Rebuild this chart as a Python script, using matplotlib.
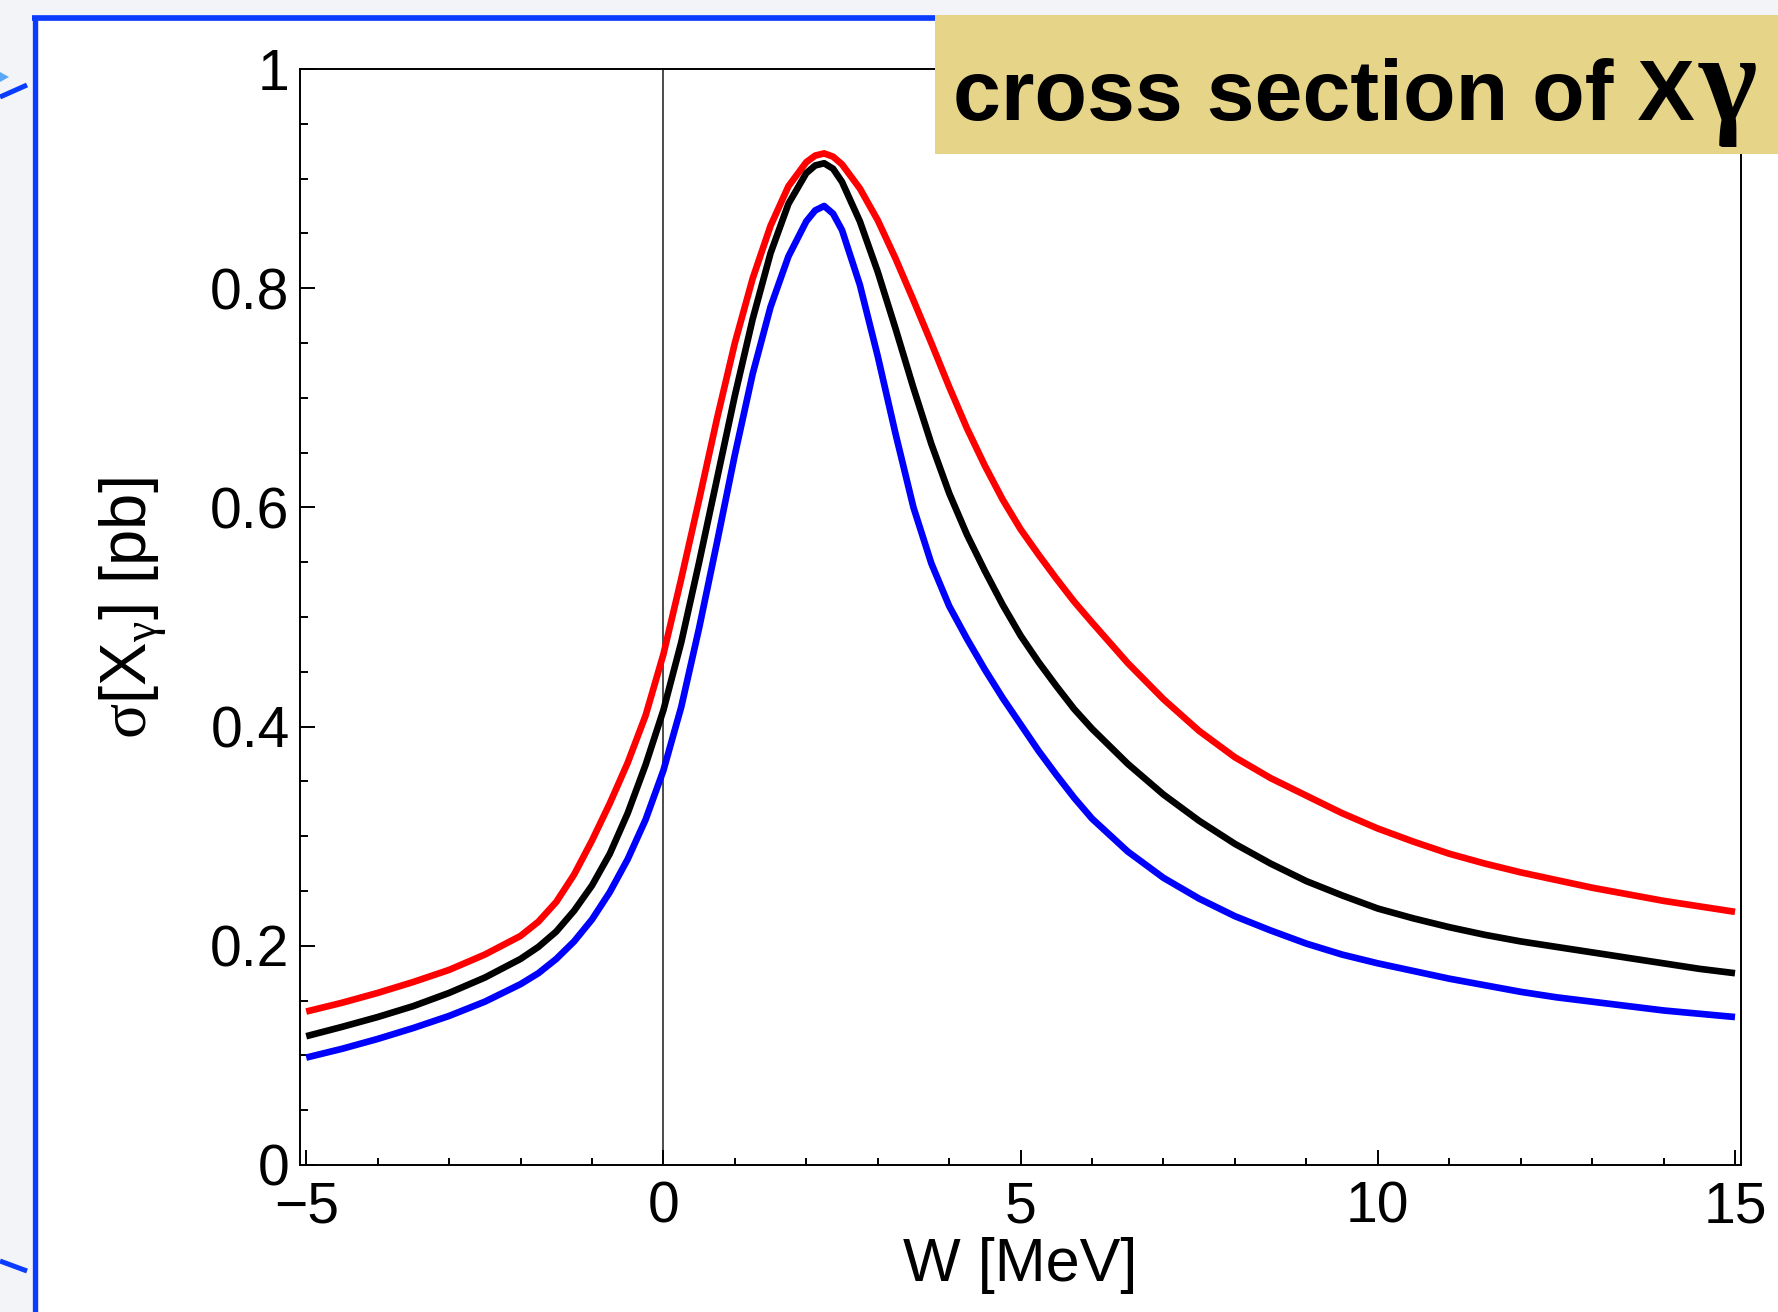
import matplotlib
matplotlib.use("Agg")
import matplotlib.pyplot as plt
from matplotlib.patches import Rectangle, Polygon
from matplotlib.lines import Line2D
from matplotlib.ticker import MultipleLocator, FixedLocator, FixedFormatter

plt.rcParams["font.family"] = ["Liberation Sans", "DejaVu Sans"]
plt.rcParams["mathtext.fontset"] = "custom"
plt.rcParams["mathtext.rm"] = "Liberation Sans"
plt.rcParams["mathtext.it"] = "Liberation Sans:italic"
plt.rcParams["mathtext.bf"] = "Liberation Sans:bold"
plt.rcParams["mathtext.sf"] = "Liberation Serif"

# ---- data: cross section of X_gamma vs W ----
W_MeV = [-5, -4.5, -4, -3.5, -3, -2.5, -2, -1.75, -1.5, -1.25, -1, -0.75, -0.5, -0.25,
         0, 0.25, 0.5, 0.75, 1.0, 1.25, 1.5, 1.75, 2.0, 2.125, 2.25, 2.375, 2.5, 2.75,
         3.0, 3.25, 3.5, 3.75, 4.0, 4.25, 4.5, 4.75, 5.0, 5.25, 5.5, 5.75, 6.0, 6.5,
         7.0, 7.5, 8.0, 8.5, 9.0, 9.5, 10.0, 10.5, 11.0, 11.5, 12.0, 12.5, 13.0, 13.5,
         14.0, 14.5, 15.0]

sigma_red = [0.140, 0.148, 0.157, 0.167, 0.178, 0.192, 0.209, 0.222, 0.240, 0.265, 0.296, 0.330, 0.367, 0.410,
             0.466, 0.535, 0.607, 0.681, 0.750, 0.809, 0.857, 0.893, 0.915, 0.921, 0.923, 0.920, 0.913, 0.891,
             0.862, 0.827, 0.789, 0.750, 0.710, 0.672, 0.638, 0.607, 0.580, 0.557, 0.535, 0.514, 0.495, 0.458,
             0.425, 0.396, 0.372, 0.353, 0.337, 0.321, 0.307, 0.295, 0.284, 0.275, 0.267, 0.260, 0.253, 0.247,
             0.241, 0.236, 0.231]

sigma_black = [0.1175, 0.126, 0.135, 0.145, 0.157, 0.171, 0.188, 0.199, 0.213, 0.232, 0.255, 0.284, 0.321, 0.365,
               0.415, 0.477, 0.550, 0.626, 0.702, 0.772, 0.832, 0.877, 0.905, 0.912, 0.914, 0.909, 0.897, 0.861,
               0.815, 0.763, 0.709, 0.658, 0.613, 0.575, 0.542, 0.511, 0.483, 0.459, 0.437, 0.416, 0.398, 0.366,
               0.338, 0.314, 0.293, 0.275, 0.259, 0.246, 0.234, 0.225, 0.217, 0.210, 0.204, 0.199, 0.194, 0.189,
               0.184, 0.179, 0.175]

sigma_blue = [0.098, 0.106, 0.115, 0.125, 0.136, 0.149, 0.165, 0.175, 0.188, 0.204, 0.224, 0.249, 0.279, 0.315,
              0.360, 0.418, 0.490, 0.568, 0.648, 0.722, 0.783, 0.829, 0.861, 0.871, 0.875, 0.868, 0.853, 0.803,
              0.738, 0.667, 0.600, 0.549, 0.510, 0.480, 0.452, 0.426, 0.402, 0.378, 0.356, 0.335, 0.316, 0.286,
              0.262, 0.243, 0.227, 0.214, 0.202, 0.192, 0.184, 0.177, 0.170, 0.164, 0.158, 0.153, 0.149, 0.145,
              0.141, 0.138, 0.135]

x_ticks = [-5, 0, 5, 10, 15]
x_tick_labels = ["\u22125", "0", "5", "10", "15"]
y_ticks = [0, 0.2, 0.4, 0.6, 0.8, 1.0]
y_tick_labels = ["0", "0.2", "0.4", "0.6", "0.8", "1"]

# ---- figure in pixel units ----
FW, FH = 1778, 1312
fig = plt.figure(figsize=(FW / 100, FH / 100), dpi=100, facecolor="white")


def fx(px):
    return px / FW


def fy(py):
    return 1 - py / FH


page_gray = "#F3F4F7"
frame_blue = "#0A3CFF"

# page margin around the slide frame
fig.add_artist(Rectangle((0, fy(15)), 1, 1 - fy(15), transform=fig.transFigure,
                         facecolor=page_gray, edgecolor="none", zorder=-5))
fig.add_artist(Rectangle((0, 0), fx(32), 1, transform=fig.transFigure,
                         facecolor=page_gray, edgecolor="none", zorder=-5))
# blue frame of the slide
fig.add_artist(Line2D([fx(32), fx(940)], [fy(18), fy(18)], transform=fig.transFigure,
                      color=frame_blue, lw=4.1, solid_capstyle="butt", zorder=2))
fig.add_artist(Line2D([fx(35), fx(35)], [fy(15.5), 0], transform=fig.transFigure,
                      color=frame_blue, lw=3.9, solid_capstyle="butt", zorder=2))
# arrow fragments at the left margin
fig.add_artist(Line2D([fx(0), fx(27)], [fy(97), fy(85)], transform=fig.transFigure,
                      color=frame_blue, lw=3.6, solid_capstyle="butt", zorder=2))
fig.add_artist(Polygon([(fx(0), fy(72)), (fx(9), fy(77)), (fx(0), fy(82))], closed=True,
                       transform=fig.transFigure, facecolor="#5AA8F5", edgecolor="none", zorder=2))
fig.add_artist(Line2D([fx(0), fx(27)], [fy(1261), fy(1271)], transform=fig.transFigure,
                      color=frame_blue, lw=3.6, solid_capstyle="butt", zorder=2))

# ---- plot ----
ax = fig.add_axes([fx(300), fy(1165), fx(1741) - fx(300), fy(69) - fy(1165)])
ax.set_facecolor("white")

line_kw = dict(lw=4.8, solid_capstyle="butt", solid_joinstyle="round")
ax.axvline(0, color="#1a1a1a", lw=1.1, zorder=1)
ax.plot(W_MeV, sigma_red, color="#FF0000", zorder=3, **line_kw)
ax.plot(W_MeV, sigma_blue, color="#0000FF", zorder=3, **line_kw)
ax.plot(W_MeV, sigma_black, color="black", zorder=4, **line_kw)

ax.set_xlim(-5.087, 15.084)
ax.set_ylim(0, 1)

ax.xaxis.set_major_locator(FixedLocator(x_ticks))
ax.xaxis.set_major_formatter(FixedFormatter(x_tick_labels))
ax.xaxis.set_minor_locator(MultipleLocator(1))
ax.yaxis.set_major_locator(FixedLocator(y_ticks))
ax.yaxis.set_major_formatter(FixedFormatter(y_tick_labels))
ax.yaxis.set_minor_locator(MultipleLocator(0.05))

ax.tick_params(which="both", direction="in", top=False, right=False, width=1.4,
               colors="black", labelsize=41)
ax.tick_params(which="major", length=10.8)
ax.tick_params(which="minor", length=5.4)
ax.tick_params(axis="x", which="major", pad=11)
ax.tick_params(axis="y", which="major", pad=7.5)

for sp in ax.spines.values():
    sp.set_linewidth(1.4)
    sp.set_color("black")

ax.set_xlabel("W [MeV]", fontsize=44)
ax.xaxis.set_label_coords(0.5, -0.066)
ax.xaxis.label.set_va("top")

ax.set_ylabel(r"$\mathsf{\sigma}\mathrm{[X}_{\mathsf{\gamma}}\mathrm{]\ [pb]}$", fontsize=47)
ax.yaxis.set_label_coords(-0.116, 0.508)
ax.yaxis.label.set_va("center")

# ---- title banner ----
fig.add_artist(Rectangle((fx(935), fy(154)), 1.0, fy(15) - fy(154), transform=fig.transFigure,
                         facecolor="#E6D488", edgecolor="none", zorder=5))
title = fig.text(fx(953), fy(120), "cross section of X", fontsize=62, fontweight="bold",
                 ha="left", va="baseline", zorder=6)
renderer = fig.canvas.get_renderer()
tb = title.get_window_extent(renderer)
fig.text((tb.x1 + 4) / FW, fy(120), "\u03b3", family="Liberation Serif", fontweight="bold",
         fontsize=90, ha="left", va="baseline", zorder=6)

fig.savefig("out.png", dpi=100, facecolor=fig.get_facecolor())
